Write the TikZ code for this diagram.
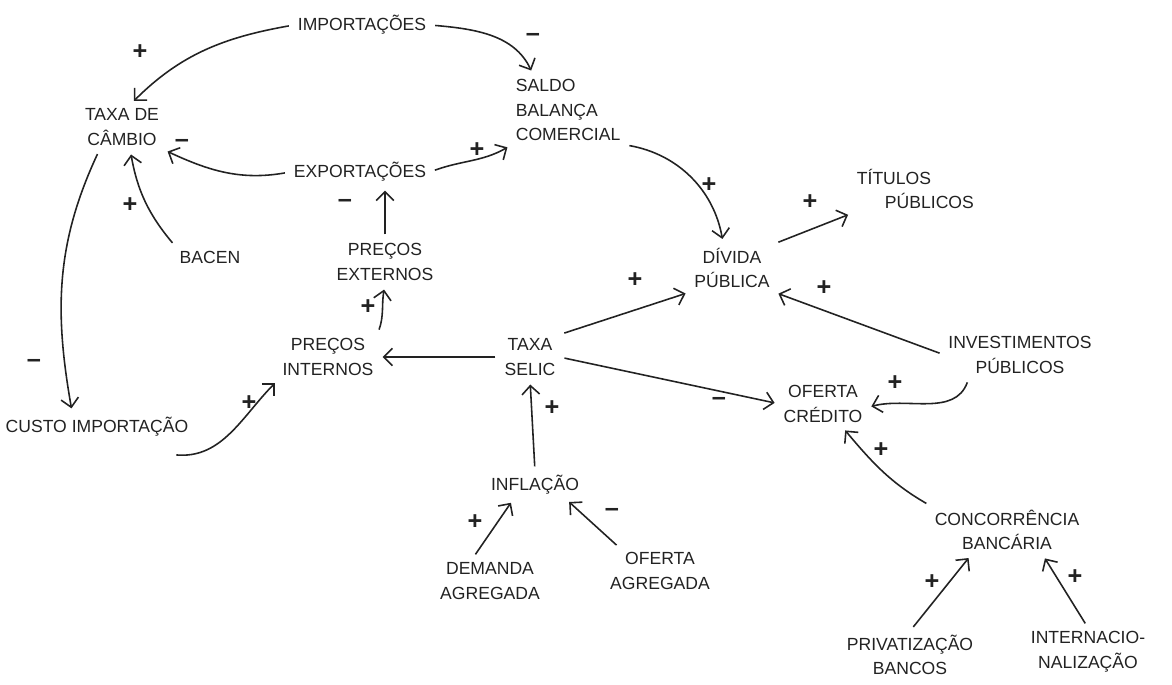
\documentclass[tikz,border=0pt]{standalone}
\usepackage{fontspec}
\setmainfont{Liberation Sans}
\usetikzlibrary{arrows.meta}
\definecolor{pencil}{HTML}{222222}

\begin{document}
\begin{tikzpicture}[x=0.02cm,y=-0.02cm,
  lnk/.style={-{Straight Barb[length=5pt,width=10pt]}, line width=0.9pt, shorten >=3pt, shorten <=3pt},
  sgn/.style={font=\Large\bfseries}]
\useasboundingbox (0,0) rectangle (1172,685);
\begin{scope}[pencil]
\tikzstyle{every node}=[align=center, inner sep=2pt, text=pencil, font=\fontsize{10}{14}\selectfont];
% variables
\draw (362,25) node (imp) {IMPORTAÇÕES};
\draw (122,127) node (cam) {TAXA DE\\CÂMBIO};
\draw (512,110) node[anchor=west, align=left] (sal) {SALDO\\BALANÇA\\COMERCIAL};
\draw (360,172) node (exp) {EXPORTAÇÕES};
\draw (210,257) node (bac) {BACEN};
\draw (385,262) node (pext) {PREÇOS\\EXTERNOS};
\draw (328,357) node (pint) {PREÇOS\\INTERNOS};
\draw (530,357) node (sel) {TAXA\\SELIC};
\draw (97,427) node (cus) {CUSTO IMPORTAÇÃO};
\draw (535,485) node (inf) {INFLAÇÃO};
\draw (490,581) node (dem) {DEMANDA\\AGREGADA};
\draw (660,571) node (ofa) {OFERTA\\AGREGADA};
\draw (732,268) node (div) {DÍVIDA\\PÚBLICA};
\draw (853,189) node[anchor=west, align=left] (tit) {TÍTULOS\\\hspace*{16pt}PÚBLICOS};
\draw (1020,355) node (inv) {INVESTIMENTOS\\PÚBLICOS};
\draw (823,404) node (ofc) {OFERTA\\CRÉDITO};
\draw (1007,530) node (con) {CONCORRÊNCIA\\BANCÁRIA};
\draw (910,655) node (pri) {PRIVATIZAÇÃO\\BANCOS};
\draw (1088,652) node (int) {INTERNACIO-\\NALIZAÇÃO};

% links
\draw[lnk] (imp.west) to[out=190,in=45] (cam.70);
\draw[lnk] (imp.east) to[out=-5,in=115] (sal.135);
\draw[lnk] (exp.west) to[out=190,in=-25] (cam.south east);
\draw[lnk] (exp.east) to[out=20,in=210] (sal.south west);
\draw[lnk] (bac.north west) to[out=130,in=-80] (cam.-70);
\draw[lnk] (pext.north) -- (exp.south -| pext.north);
\draw[lnk] (pint.north east) to[out=70,in=-100] (pext.south);
\draw[lnk] (sel.west) -- (pint.east);
\draw[lnk] (sel.north east) -- (div.south west);
\draw[lnk] (sel.east) -- (ofc.west);
\draw[lnk] (cam.-135) to[out=-115,in=100] ([xshift=-14pt]cus.north);
\draw[lnk] ([shift={(-12pt,-8pt)}]cus.south east) to[out=-5,in=-135] (pint.south west);
\draw[lnk] (inf.north) -- (sel.south);
\draw[lnk] ([xshift=-10pt]dem.north) -- ([xshift=-12pt]inf.south);
\draw[lnk] ([xshift=8pt]ofa.north west) -- ([xshift=-10pt]inf.south east);
\draw[lnk] (sal.south east) to[out=-10,in=100] (div.110);
\draw[lnk] (div.north east) -- (tit.south west);
\draw[lnk] (inv.west) -- (div.south east);
\draw[lnk] ([xshift=14pt]inv.south west) to[out=-110,in=15] (ofc.-5);
\draw[lnk] (con.north west) to[out=150,in=-50] (ofc.-50);
\draw[lnk] (pri.north) -- ([xshift=-20pt]con.south);
\draw[lnk] (int.north) -- ([xshift=20pt]con.south);

% polarities
\draw (140,52) node[sgn] (s1) {+};
\draw (533,37) node[sgn] (s2) {–};
\draw (182,143) node[sgn] (s3) {–};
\draw (477,150) node[sgn] (s4) {+};
\draw (130,205) node[sgn] (s5) {+};
\draw (345,203) node[sgn] (s6) {–};
\draw (368,307) node[sgn] (s7) {+};
\draw (34,363) node[sgn] (s8) {–};
\draw (249,403) node[sgn] (s9) {+};
\draw (552,408) node[sgn] (s10) {+};
\draw (475,522) node[sgn] (s11) {+};
\draw (612,512) node[sgn] (s12) {–};
\draw (709,185) node[sgn] (s13) {+};
\draw (810,202) node[sgn] (s14) {+};
\draw (635,280) node[sgn] (s15) {+};
\draw (824,288) node[sgn] (s16) {+};
\draw (719,401) node[sgn] (s17) {–};
\draw (895,383) node[sgn] (s18) {+};
\draw (881,450) node[sgn] (s19) {+};
\draw (932,582) node[sgn] (s20) {+};
\draw (1075,577) node[sgn] (s21) {+};
\end{scope}
\end{tikzpicture}
\end{document}
